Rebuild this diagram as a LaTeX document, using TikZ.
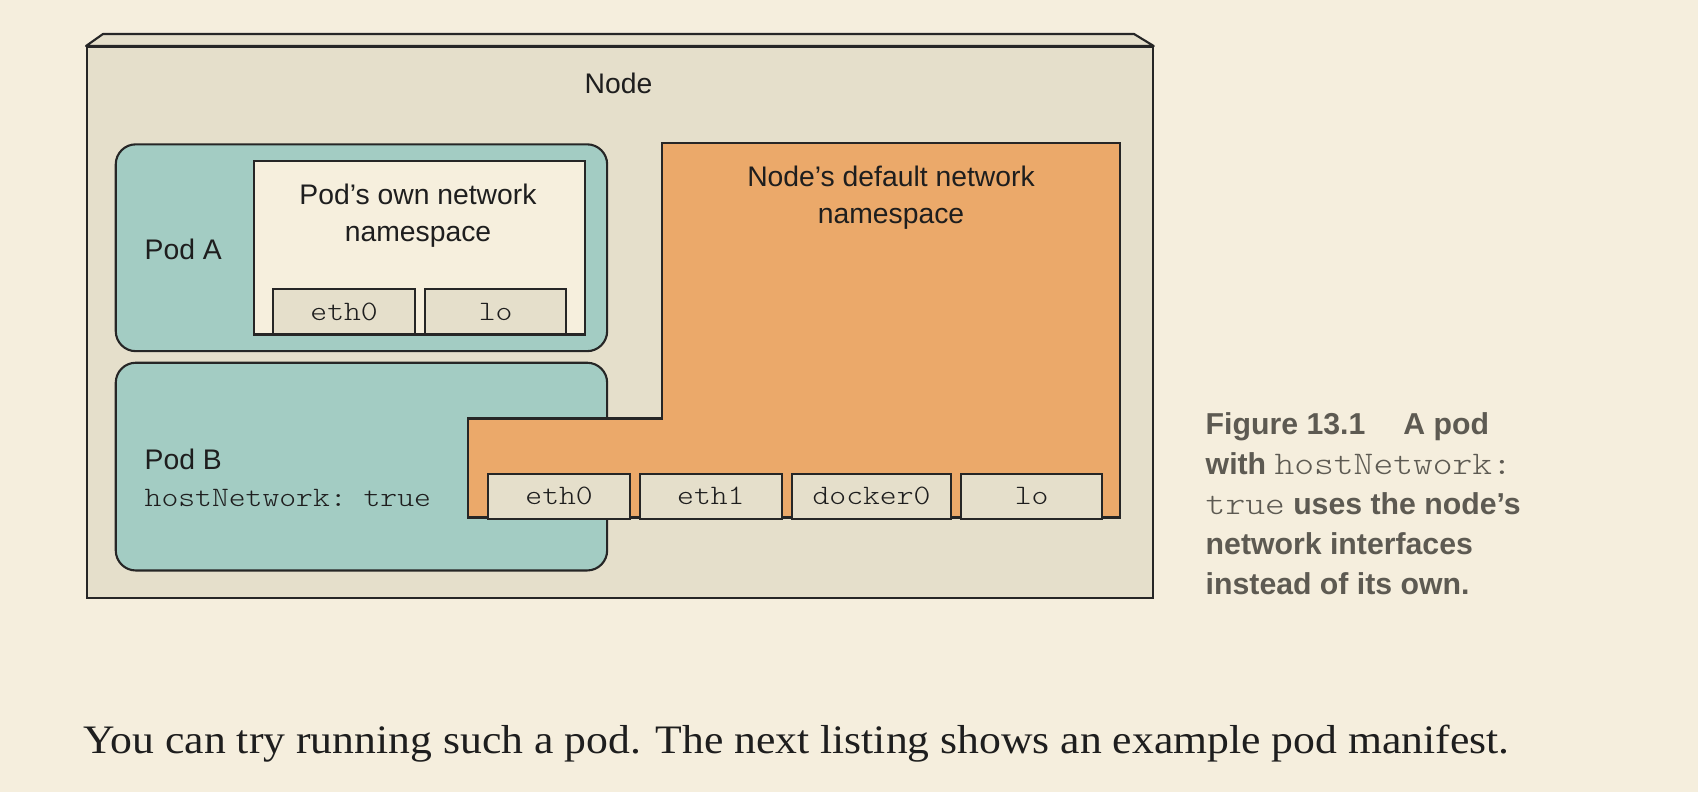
\documentclass[tikz,border=0pt]{standalone}
\usepackage{fontspec}
\setmainfont{Liberation Sans}
\setmonofont[FakeStretch=1.14]{Latin Modern Mono Light}
\newfontfamily\bodyserif[FakeStretch=1.08]{Liberation Serif}
\definecolor{bg}{HTML}{F5EEDD}
\definecolor{nodefill}{HTML}{E5DFCB}
\definecolor{podfill}{HTML}{A3CCC3}
\definecolor{orangefill}{HTML}{EBA96A}
\definecolor{nsfill}{HTML}{F6EFDD}
\definecolor{linecol}{HTML}{262626}
\definecolor{txtcol}{HTML}{1E1E1E}
\definecolor{captioncol}{HTML}{5D5A52}
\newcommand\lblfont{\fontsize{8.05pt}{10pt}\selectfont}
\newcommand\ifacefont{\fontsize{8pt}{10pt}\selectfont\ttfamily}
\newcommand\capfont{\fontsize{8.6pt}{10pt}\selectfont\bfseries}
\newcommand\captt[1]{{\fontsize{9.4pt}{10pt}\selectfont\mdseries\ttfamily #1}}
\tikzset{
  outline/.style={draw=linecol, line width=0.6pt},
  boxnw/.style={outline, inner sep=0pt, anchor=north west},
  iface/.style={boxnw, fill=nodefill, minimum height=0.45cm, font=\ifacefont, text=txtcol},
  lbl/.style={inner sep=0pt, text=txtcol, font=\lblfont, anchor=base},
  lblw/.style={lbl, anchor=base west},
  caption/.style={inner sep=0pt, text=captioncol, font=\capfont, anchor=base west},
}
\begin{document}
\begin{tikzpicture}[x=0.01cm, y=-0.01cm]
\fill[bg] (0,0) rectangle (1698,792);
\useasboundingbox (0,0) rectangle (1698,792);

% Node box (3D)
\node[boxnw, fill=nodefill, minimum width=10.65cm, minimum height=5.507cm] (nodebox) at (86,46) {};
\draw[outline, fill=nodefill, line join=round] (nodebox.north west) -- ++(17,-12) coordinate (tl)
  -- (1134,34) coordinate (tr) -- (nodebox.north east) -- cycle;
\node[lbl] (nodelbl) at (618.5,94) {Node};

% Pods
\node[boxnw, fill=podfill, rounded corners=0.2cm, minimum width=4.911cm, minimum height=2.067cm] (poda) at (114.7,143.3) {};
\node[boxnw, fill=podfill, rounded corners=0.2cm, minimum width=4.911cm, minimum height=2.076cm] (podb) at (114.7,361.7) {};

% Node's default network namespace (L shape)
\draw[outline, fill=orangefill] (662,143.3) coordinate (ns1) -- (1120,143.3) coordinate (ns2)
  -- (1120,517.5) coordinate (ns3) -- (468,517.5) coordinate (ns4)
  -- (468,418.5) coordinate (ns5) -- (662,418.5) coordinate (ns6) -- cycle;
\node[lbl] (ndn1) at (891,186.7) {Node’s default network};
\node[lbl] (ndn2) at (891,224) {namespace};

% Pod A own namespace
\node[boxnw, fill=nsfill, minimum width=3.306cm, minimum height=1.733cm] (nsa) at (253,160) {};
\node[lbl] (pon1) at (418,205) {Pod’s own network};
\node[lbl] (pon2) at (418,241.7) {namespace};
\node[lblw] (podalbl) at (144,260) {Pod A};

% Pod A interfaces
\node[iface, minimum width=1.42cm] (aeth0) at (272,288.3) {eth0};
\node[iface, minimum width=1.41cm] (alo) at (424,288.3) {lo};

% Pod B labels
\node[lblw] (podblbl) at (144,470) {Pod B};
\node[lblw, font=\ifacefont] (hostnet) at (144,506.7) {hostNetwork: true};

% Node interfaces
\node[iface, minimum width=1.415cm, minimum height=0.448cm] (beth0) at (487.3,472.7) {eth0};
\node[iface, minimum width=1.416cm, minimum height=0.448cm] (beth1) at (639,472.7) {eth1};
\node[iface, minimum width=1.588cm, minimum height=0.448cm] (bdock) at (791,472.7) {docker0};
\node[iface, minimum width=1.41cm, minimum height=0.448cm] (blo) at (960,472.7) {lo};

% Caption
\node[caption] (cap1) at (1205,434.5) {Figure 13.1\hspace{0.38cm}A pod};
\node[caption] (cap2) at (1205,474.5) {with \captt{hostNetwork:}};
\node[caption] (cap3) at (1205,515) {\captt{true} uses the node’s};
\node[caption] (cap4) at (1205,555) {network interfaces};
\node[caption] (cap5) at (1205,595) {instead of its own.};

% Body text
\node[inner sep=0pt, anchor=base west, text=txtcol, font=\fontsize{11.5pt}{14pt}\selectfont\bodyserif] (body) at (83,753.3)
  {You can try running such a pod. The next listing shows an example pod manifest.};
\end{tikzpicture}
\end{document}
